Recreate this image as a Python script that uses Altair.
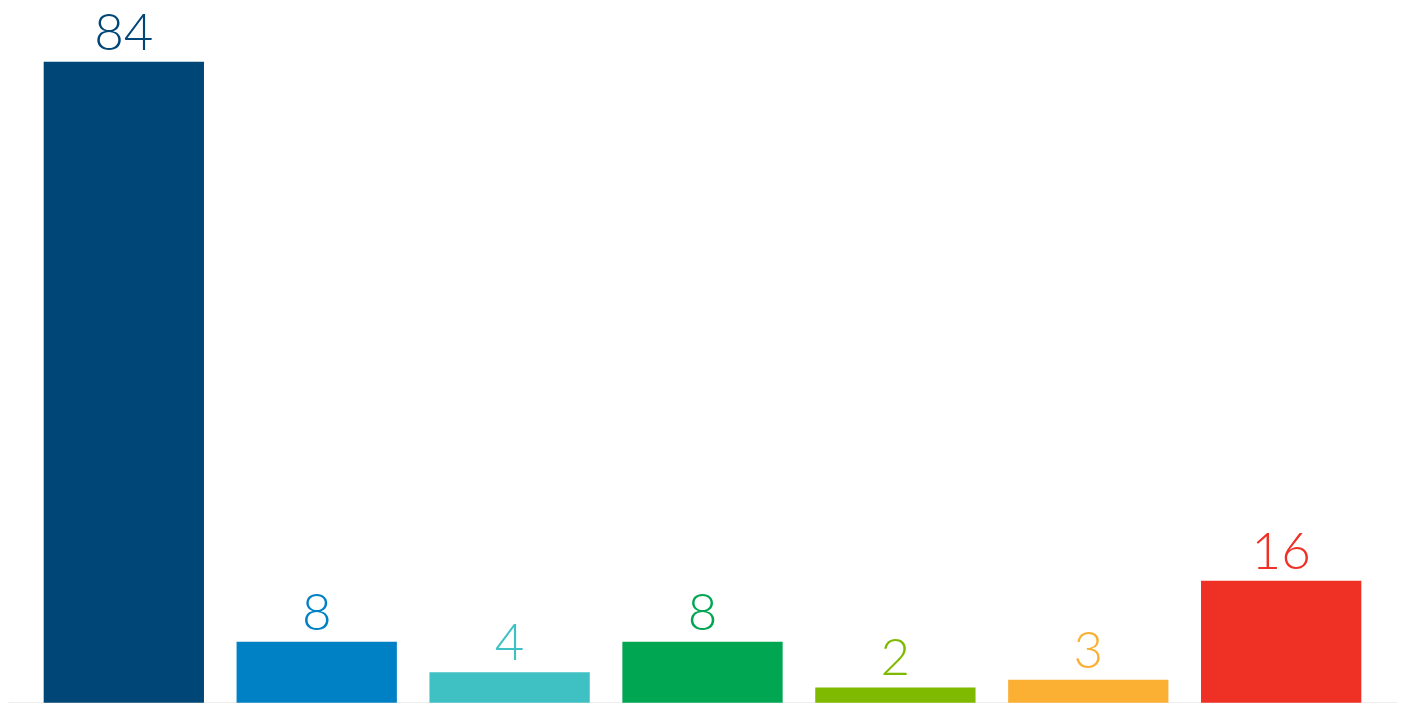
import altair as alt
import pandas as pd

categories = ["A", "B", "C", "D", "E", "F", "G"]
values = [84, 8, 4, 8, 2, 3, 16]
colors = ["#004677", "#0080C5", "#3FC1C4", "#00A651", "#7FBA00", "#FBB034", "#EE3124"]

df = pd.DataFrame({"cat": categories, "val": values, "col": colors})

x = alt.X("cat:N", sort=categories,
          scale=alt.Scale(paddingInner=0.169, paddingOuter=0.185),
          axis=alt.Axis(labels=False, ticks=False, title=None, domainColor="#dddddd", domainWidth=1.5))
y = alt.Y("val:Q", scale=alt.Scale(domain=[0, 91], nice=False), axis=None)

bars = alt.Chart(df).mark_bar().encode(
    x=x, y=y, color=alt.Color("col:N", scale=None)
)
labels = alt.Chart(df).mark_text(
    font="Lato", fontWeight=300, fontSize=51, baseline="alphabetic", dy=-12
).encode(
    x=x, y=y, text="val:Q", color=alt.Color("col:N", scale=None)
)

chart = (bars + labels).properties(
    width=1390, height=695, padding=0, autosize=alt.AutoSizeParams(type="none")
).configure_view(stroke=None)
chart.save("out.html", embed_options={"renderer": "svg", "actions": False})
